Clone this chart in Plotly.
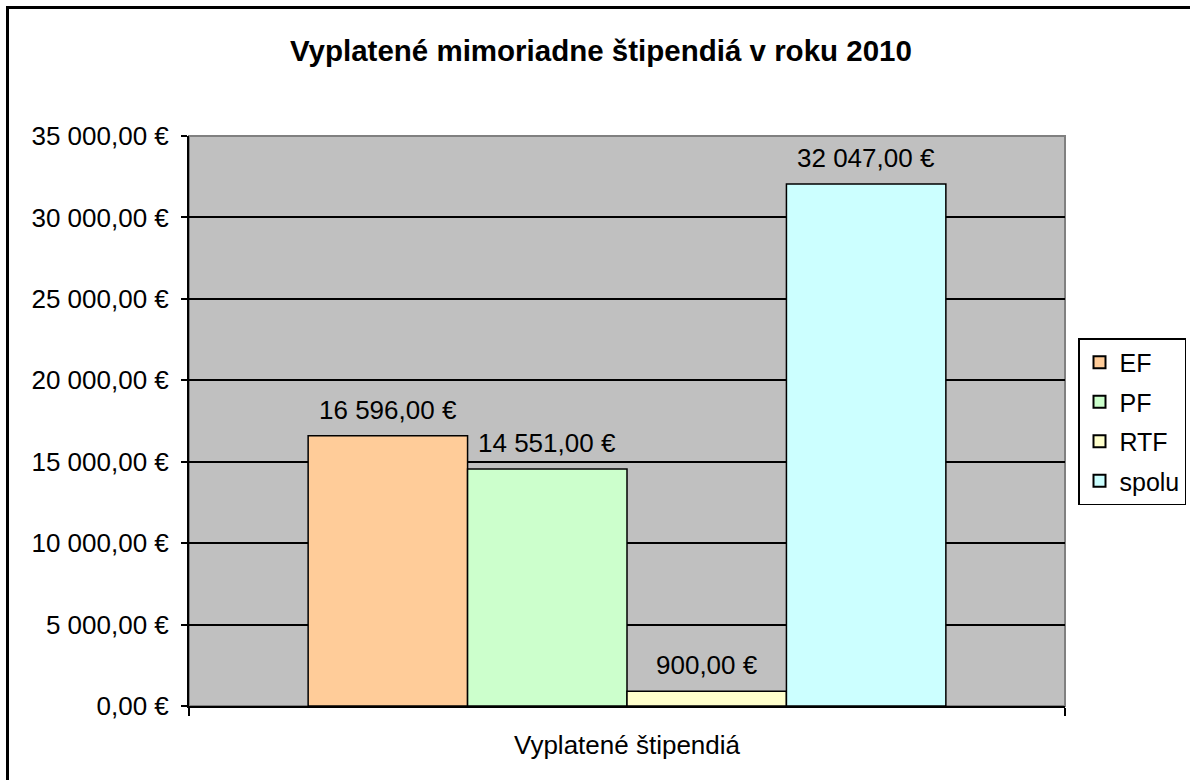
import plotly.graph_objects as go

# ---- data ----
category = ["Vyplatené štipendiá"]
series_names = ["EF", "PF", "RTF", "spolu"]
series_values = [16596.00, 14551.00, 900.00, 32047.00]
series_colors = ["#FFCC99", "#CCFFCC", "#FFFFCC", "#CCFFFF"]
y_ticks = [0, 5000, 10000, 15000, 20000, 25000, 30000, 35000]
title_text = "Vyplatené mimoriadne štipendiá v roku 2010"


def eur(v):
    s = f"{v:,.2f}"
    return s.replace(",", " ").replace(".", ",") + " €"


FONT = "Arial, 'Liberation Sans', sans-serif"
W, H = 1190, 780
L, R, T, B = 189, 125, 136, 74
BARGAP = 0.272

fig = go.Figure()
for i, (name, val, col) in enumerate(zip(series_names, series_values, series_colors)):
    fig.add_trace(go.Bar(
        name=name, x=category, y=[val],
        marker=dict(color=col, line=dict(color="black", width=1.5)),
        legendgroup=name,
    ))

# value labels above each bar
n = len(series_names)
grp = 1 - BARGAP
for i, val in enumerate(series_values):
    off = (i - (n - 1) / 2) * grp / n
    fig.add_annotation(
        x=off, y=val, xref="x", yref="y", text=eur(val), showarrow=False,
        yanchor="bottom", yshift=9, font=dict(family=FONT, size=26, color="black"),
    )

pw = W - L - R
ph = H - T - B
# outer chart frame (top and left edges visible in crop)
fig.add_shape(type="line", xref="paper", yref="paper",
              x0=(6 - L) / pw, x1=(W - L) / pw, y0=(H - B - 7.5) / ph, y1=(H - B - 7.5) / ph,
              line=dict(color="black", width=3))
fig.add_shape(type="line", xref="paper", yref="paper",
              x0=(7.5 - L) / pw, x1=(7.5 - L) / pw, y0=(H - B - 6) / ph, y1=-B / ph,
              line=dict(color="black", width=3))
# plot area border (gray)
fig.add_shape(type="rect", xref="paper", yref="paper", x0=0, x1=1, y0=0, y1=1,
              line=dict(color="#808080", width=2), layer="below")

fig.update_layout(
    width=W, height=H,
    margin=dict(l=L, r=R, t=T, b=B, pad=0, autoexpand=False),
    paper_bgcolor="white", plot_bgcolor="#C0C0C0",
    barmode="group", bargap=BARGAP, bargroupgap=0,
    title=dict(text=f"<b>{title_text}</b>", x=0.505, xanchor="center",
               y=1 - 51 / H, yanchor="middle",
               font=dict(family=FONT, size=29.5, color="black")),
    font=dict(family=FONT, size=26, color="black"),
    legend=dict(x=(1078 - L) / pw, xanchor="left", y=(H - B - 338) / ph, yanchor="top",
                bordercolor="black", borderwidth=1.5, bgcolor="white",
                font=dict(family=FONT, size=25, color="black"),
                tracegroupgap=4, itemsizing="constant"),
    showlegend=True,
)
fig.update_xaxes(
    type="category", showline=True, linecolor="black", linewidth=2,
    ticks="outside", tickson="boundaries", ticklen=8, tickcolor="black", tickwidth=2,
    showgrid=False, tickfont=dict(family=FONT, size=26, color="black"),
    ticklabelstandoff=15,
)
fig.update_yaxes(
    range=[0, 35000], tickvals=y_ticks, ticktext=[eur(v) for v in y_ticks],
    showline=True, linecolor="black", linewidth=2,
    ticks="outside", ticklen=6, tickcolor="black", tickwidth=2,
    showgrid=True, gridcolor="black", gridwidth=1.5, zeroline=False,
    tickfont=dict(family=FONT, size=26, color="black"), ticklabelstandoff=7,
)

fig.write_html("out.html", config={"displayModeBar": False},
               post_script="document.body.style.margin='0px';")
